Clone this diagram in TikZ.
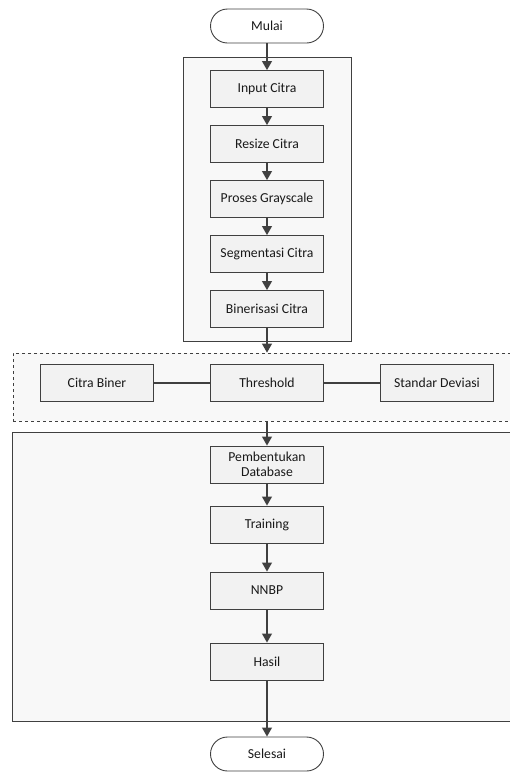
\documentclass[tikz,border=0pt]{standalone}
\usepackage{fontspec}
\setmainfont{Carlito}
\usetikzlibrary{arrows.meta}
\definecolor{linegray}{HTML}{404040}
\definecolor{boxfill}{HTML}{F2F2F2}
\definecolor{groupfill}{HTML}{F8F8F8}
\begin{document}
\begin{tikzpicture}[x=1pt,y=-1pt,font=\fontsize{13.7}{15.5}\selectfont,
    process/.style={draw=linegray,line width=0.9pt,fill=boxfill,rectangle,
        minimum width=113pt,minimum height=37pt,align=center,inner sep=1pt,
        text=black!90},
    terminal/.style={draw=linegray,line width=0.9pt,fill=white,rectangle,
        rounded corners=17pt,minimum width=113pt,minimum height=34pt,text=black!90},
    groupbox/.style={draw=linegray,line width=0.8pt,fill=groupfill,rectangle,inner sep=0pt},
    flow/.style={draw=linegray,line width=1.1pt,-{Triangle[width=10pt,length=9pt]}},
    link/.style={draw=linegray,line width=1.1pt}]
    \clip (0,0) rectangle (510,772);
    %% Group boxes
    \node[groupbox,minimum width=168pt,minimum height=284pt] (prep) at (267,199) {};
    \node[groupbox,dashed,minimum width=506pt,minimum height=68pt] (feat) at (266,387) {};
    \node[groupbox,minimum width=508pt,minimum height=289pt] (learn) at (266,576.5) {};
    %% Start and end
    \node[terminal] (mulai) at (267,26) {Mulai};
    \node[terminal] (selesai) at (267,754) {Selesai};
    %% Preprocessing
    \node[process] (input) at (267,89) {Input Citra};
    \node[process] (resize) at (267,144) {Resize Citra};
    \node[process] (gray) at (267,199) {Proses Grayscale};
    \node[process] (segmen) at (267,254) {Segmentasi Citra};
    \node[process] (biner) at (267,309) {Binerisasi Citra};
    %% Features
    \node[process] (citra) at (97,383) {Citra Biner};
    \node[process] (thres) at (267,383) {Threshold};
    \node[process] (stdev) at (437,383) {Standar Deviasi};
    %% Learning
    \node[process,inner sep=0pt] (db) at (267,464.5) {Pembentukan\\Database};
    \node[process] (train) at (267,524.5) {Training};
    \node[process] (nnbp) at (267,590.5) {NNBP};
    \node[process] (hasil) at (267,661.5) {Hasil};
    %% Connectors
    \draw[flow] (mulai) -- (input);
    \draw[flow] (input) -- (resize);
    \draw[flow] (resize) -- (gray);
    \draw[flow] (gray) -- (segmen);
    \draw[flow] (segmen) -- (biner);
    \draw[flow] (biner) -- (biner |- feat.north);
    \draw[link] (citra) -- (thres);
    \draw[link] (thres) -- (stdev);
    \draw[flow] (thres |- feat.south) -- (db);
    \draw[flow] (db) -- (train);
    \draw[flow] (train) -- (nnbp);
    \draw[flow] (nnbp) -- (hasil);
    \draw[flow] (hasil) -- (selesai);
\end{tikzpicture}
\end{document}
